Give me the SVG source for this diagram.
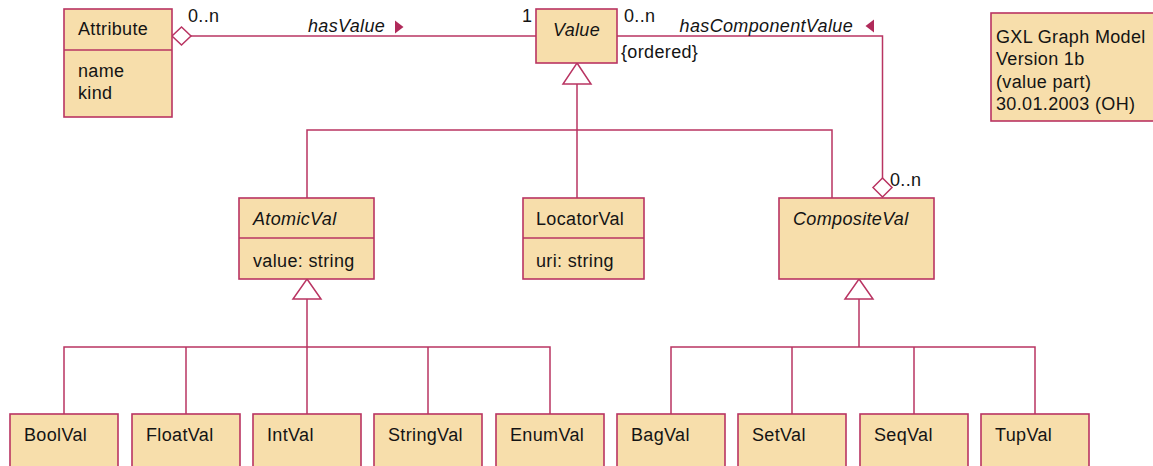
<svg xmlns="http://www.w3.org/2000/svg" width="1153" height="466" viewBox="0 0 1153 466">
  <style>
    .box { fill: #F7DEAB; stroke: #B93462; stroke-width: 1.6; }
    .sep { fill: none; stroke: #B93462; stroke-width: 1.4; }
    .edge { fill: none; stroke: #B93462; stroke-width: 1.5; }
    .hollow { fill: #FFFFFF; stroke: #B93462; stroke-width: 1.5; }
    .dir { fill: #B02A5A; stroke: none; }
    text { font-family: "Liberation Sans", Arial, sans-serif; font-size: 18px; letter-spacing: 0.35px; fill: #141414; }
    .it { font-style: italic; }
  </style>

  <!-- connectors -->
  <g id="connectors">
    <!-- hasValue association -->
    <line class="edge" x1="191" y1="36" x2="536" y2="36"/>
    <polygon class="hollow" points="172,36 181.5,27 191,36 181.5,45"/>
    <polygon class="dir" points="395,20.5 395,33.5 403.5,27"/>
    <text x="188" y="22">0..n</text>
    <text class="it" x="308" y="32">hasValue</text>
    <text x="522" y="22">1</text>

    <!-- hasComponentValue association -->
    <polyline class="edge" points="617,36 882.5,36 882.5,178"/>
    <polygon class="hollow" points="882.5,178 892,187.5 882.5,197 873,187.5"/>
    <polygon class="dir" points="865.5,26 874,19.5 874,32.5"/>
    <text x="624" y="22">0..n</text>
    <text x="621" y="58">{ordered}</text>
    <text class="it" x="853" y="32" text-anchor="end">hasComponentValue</text>
    <text x="890" y="186">0..n</text>

    <!-- Value generalisation -->
    <line class="edge" x1="577" y1="84" x2="577" y2="198"/>
    <polyline class="edge" points="307,198 307,130 832,130 832,198"/>
    <polygon class="hollow" points="577,63 591,84 563,84"/>

    <!-- AtomicVal generalisation -->
    <line class="edge" x1="307" y1="299" x2="307" y2="414"/>
    <polyline class="edge" points="64,414 64,347 550,347 550,414"/>
    <line class="edge" x1="186" y1="347" x2="186" y2="414"/>
    <line class="edge" x1="428" y1="347" x2="428" y2="414"/>
    <polygon class="hollow" points="307,279 321,299 293,299"/>

    <!-- CompositeVal generalisation -->
    <line class="edge" x1="859" y1="299" x2="859" y2="347"/>
    <polyline class="edge" points="671,414 671,347 1035,347 1035,414"/>
    <line class="edge" x1="792" y1="347" x2="792" y2="414"/>
    <line class="edge" x1="914" y1="347" x2="914" y2="414"/>
    <polygon class="hollow" points="859,279 873,299 845,299"/>
  </g>

  <g id="Attribute">
    <rect class="box" x="64" y="9" width="108" height="108"/>
    <line class="sep" x1="64" y1="50" x2="172" y2="50"/>
    <text x="78" y="35">Attribute</text>
    <text x="78" y="77">name</text>
    <text x="78" y="99">kind</text>
  </g>

  <g id="Value">
    <rect class="box" x="536" y="9" width="81" height="54"/>
    <text class="it" x="576.5" y="36" text-anchor="middle">Value</text>
  </g>

  <g id="Note">
    <rect class="box" x="991" y="13" width="170" height="108"/>
    <text x="996" y="43">GXL Graph Model</text>
    <text x="996" y="65">Version 1b</text>
    <text x="996" y="88">(value part)</text>
    <text x="996" y="110">30.01.2003 (OH)</text>
  </g>

  <g id="AtomicVal">
    <rect class="box" x="239" y="198" width="135" height="81"/>
    <line class="sep" x1="239" y1="238" x2="374" y2="238"/>
    <text class="it" x="253" y="225">AtomicVal</text>
    <text x="253" y="267">value: string</text>
  </g>

  <g id="LocatorVal">
    <rect class="box" x="523" y="198" width="121" height="81"/>
    <line class="sep" x1="523" y1="238" x2="644" y2="238"/>
    <text x="536" y="225">LocatorVal</text>
    <text x="536" y="267">uri: string</text>
  </g>

  <g id="CompositeVal">
    <rect class="box" x="779" y="198" width="155" height="81"/>
    <text class="it" x="793" y="225">CompositeVal</text>
  </g>

  <g id="BoolVal">
    <rect class="box" x="10" y="414" width="108" height="60"/>
    <text x="24" y="441">BoolVal</text>
  </g>
  <g id="FloatVal">
    <rect class="box" x="132" y="414" width="108" height="60"/>
    <text x="146" y="441">FloatVal</text>
  </g>
  <g id="IntVal">
    <rect class="box" x="253" y="414" width="108" height="60"/>
    <text x="267" y="441">IntVal</text>
  </g>
  <g id="StringVal">
    <rect class="box" x="374" y="414" width="108" height="60"/>
    <text x="388" y="441">StringVal</text>
  </g>
  <g id="EnumVal">
    <rect class="box" x="496" y="414" width="108" height="60"/>
    <text x="510" y="441">EnumVal</text>
  </g>
  <g id="BagVal">
    <rect class="box" x="617" y="414" width="108" height="60"/>
    <text x="631" y="441">BagVal</text>
  </g>
  <g id="SetVal">
    <rect class="box" x="738" y="414" width="108" height="60"/>
    <text x="752" y="441">SetVal</text>
  </g>
  <g id="SeqVal">
    <rect class="box" x="860" y="414" width="108" height="60"/>
    <text x="874" y="441">SeqVal</text>
  </g>
  <g id="TupVal">
    <rect class="box" x="981" y="414" width="108" height="60"/>
    <text x="995" y="441">TupVal</text>
  </g>
</svg>
